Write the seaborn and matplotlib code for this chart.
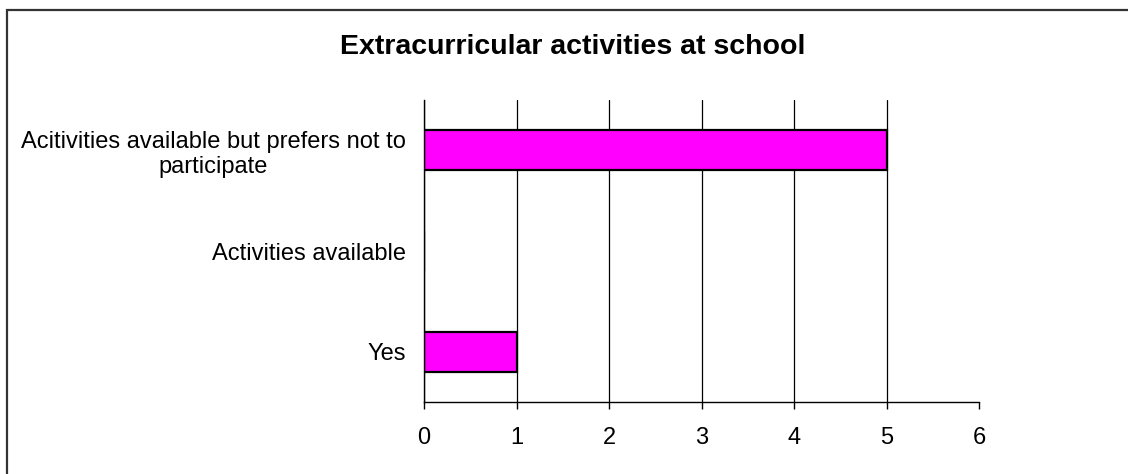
import matplotlib
matplotlib.use("Agg")
import matplotlib.pyplot as plt
import seaborn as sns
import pandas as pd
from matplotlib.patches import Rectangle

categories = [
    "Acitivities available but prefers not to\nparticipate",
    "Activities available",
    "Yes",
]
counts = [5, 0, 1]
x_ticks = [0, 1, 2, 3, 4, 5, 6]
title = "Extracurricular activities at school"

df = pd.DataFrame({"category": categories, "count": counts})

sns.set_theme(style="white")
plt.rcParams["font.family"] = ["Liberation Sans", "DejaVu Sans"]

fig = plt.figure(figsize=(11.28, 4.74), dpi=100)
ax = fig.add_axes([424 / 1128, 1 - 402 / 474, (979 - 424) / 1128, (402 - 100) / 474])

sns.barplot(data=df, x="count", y="category", order=categories, orient="h",
            color="#FF00FF", saturation=1, width=0.4,
            edgecolor="black", linewidth=1.6, ax=ax, zorder=3)

ax.set_xlim(0, 6)
ax.set_ylim(2.5, -0.5)
ax.set_xticks(x_ticks)
ax.set_xticklabels([str(t) for t in x_ticks], fontsize=17, color="black")
ax.set_xlabel("")
ax.set_ylabel("")

# category labels centred in each band, tick marks on band boundaries
ax.set_yticks(range(len(categories)))
ax.set_yticklabels(categories, fontsize=17, color="black",
                   multialignment="center", linespacing=1.2)
ax.set_yticks([-0.5, 0.5, 1.5, 2.5], minor=True)
ax.tick_params(axis="y", which="major", length=0, pad=13)
ax.tick_params(axis="y", which="minor", length=5, width=1, color="black", direction="out")
ax.tick_params(axis="x", which="major", length=5, width=1, color="black",
               direction="out", pad=13, bottom=True)

ax.xaxis.grid(True, color="black", linewidth=0.9)
ax.yaxis.grid(False)
ax.set_axisbelow(True)
ax.get_xgridlines()[-1].set_visible(False)

for side in ("top", "right"):
    ax.spines[side].set_visible(False)
for side in ("left", "bottom"):
    ax.spines[side].set_color("black")
    ax.spines[side].set_linewidth(1)
    ax.spines[side].set_zorder(4)

fig.text(573 / 1128, 1 - 47 / 474, title, ha="center", va="center",
         fontsize=20.5, fontweight="bold", color="black")

# chart-area border
fig.add_artist(Rectangle((6.5 / 1128, -0.2), 1.5, 1.2 - 10.5 / 474,
                         transform=fig.transFigure, fill=False,
                         edgecolor="#333333", linewidth=1.6))

fig.savefig("out.png", dpi=100, facecolor="white")
